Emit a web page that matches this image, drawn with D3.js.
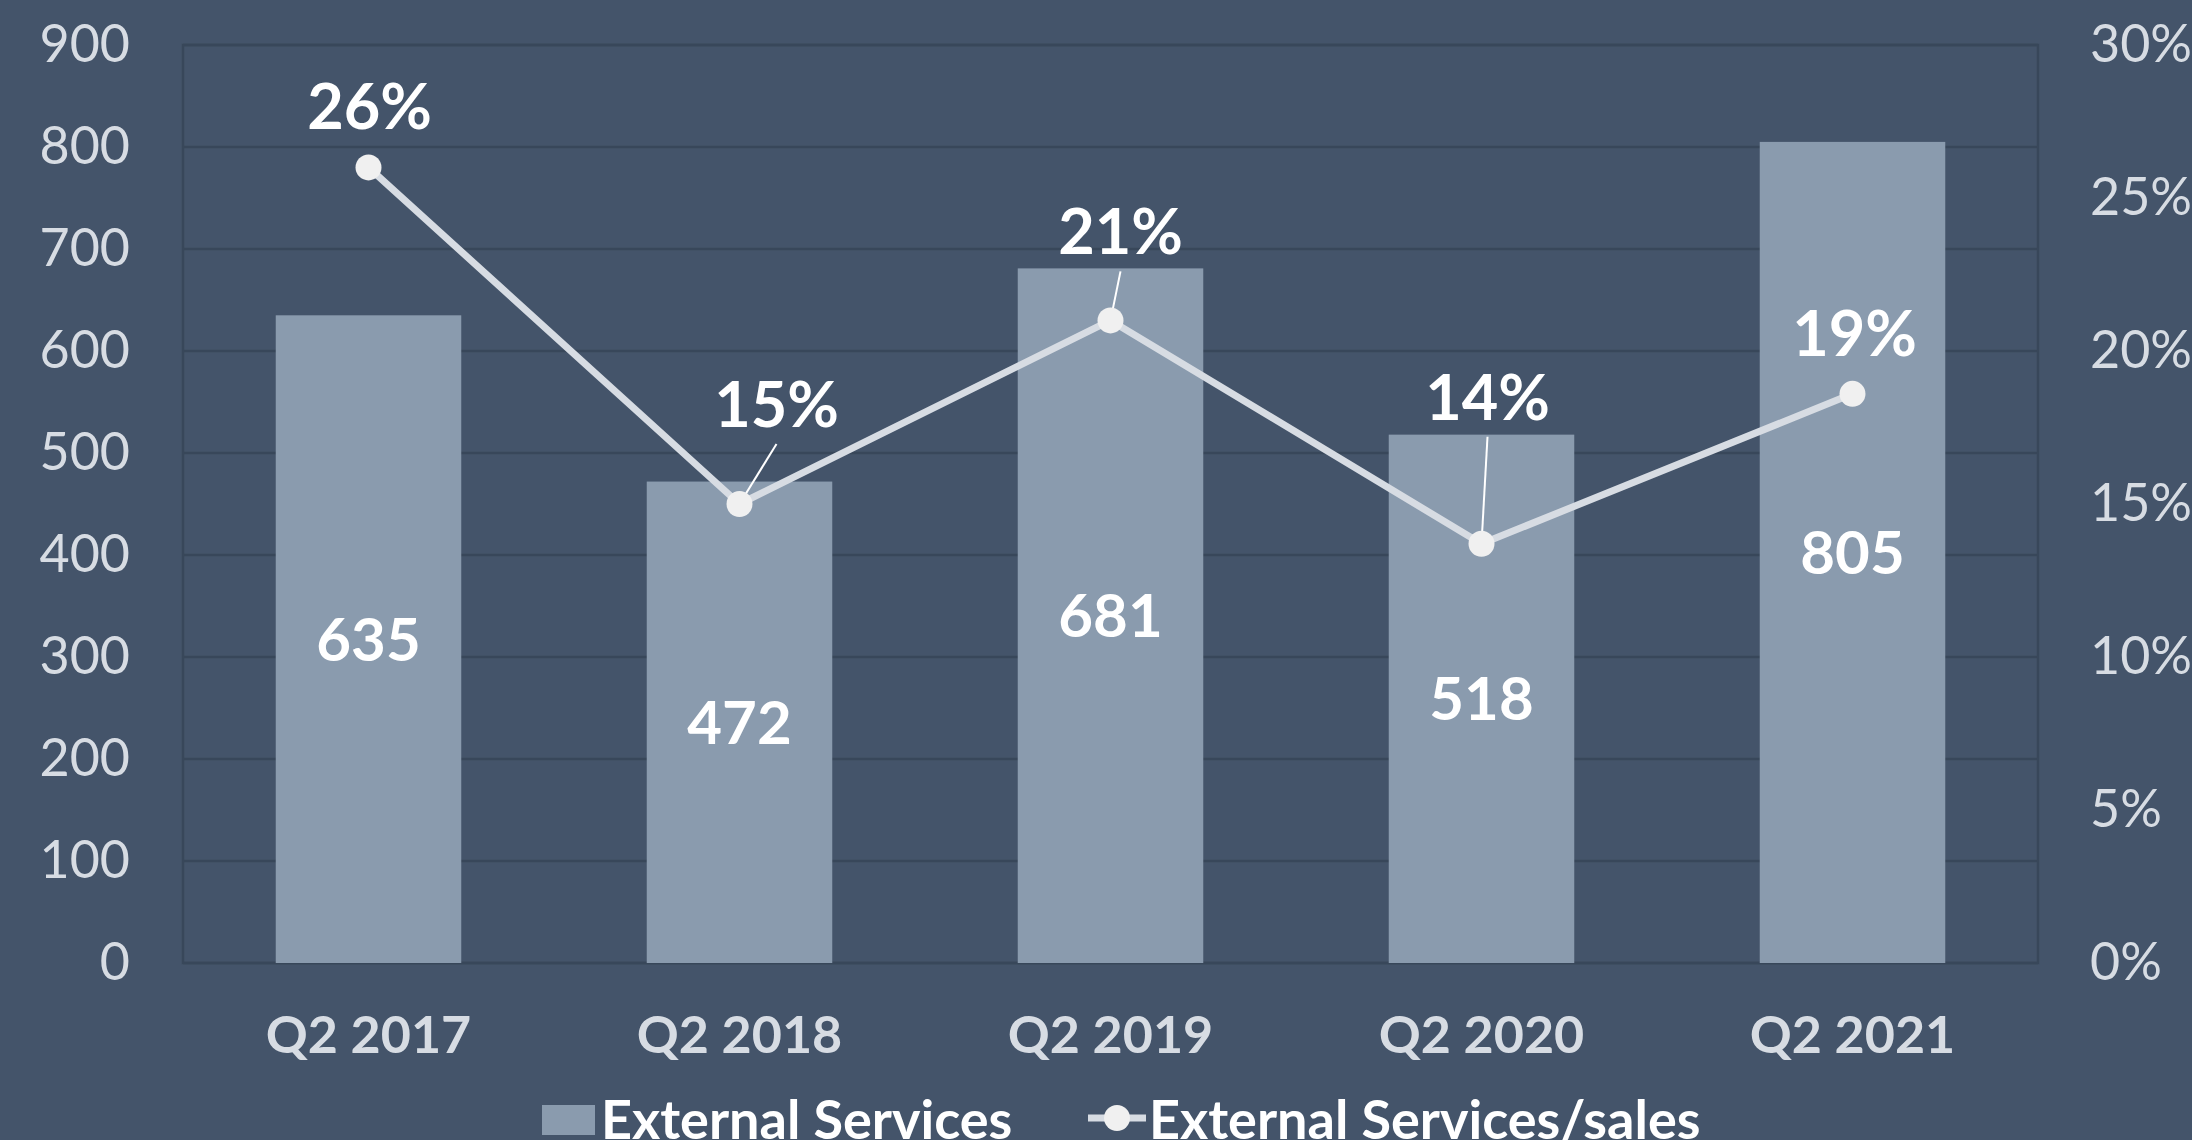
<!DOCTYPE html>
<html>
<head>
<meta charset="utf-8">
<script src="https://cdn.jsdelivr.net/npm/d3@7"></script>
<style>
  html, body { margin: 0; padding: 0; background: #44546a; overflow: hidden; }
  svg { display: block; font-family: Lato, "Open Sans", sans-serif; }
</style>
</head>
<body>
<svg id="chart" width="2192" height="1140"></svg>
<script>
// ---- data ----
const categories = ["Q2 2017", "Q2 2018", "Q2 2019", "Q2 2020", "Q2 2021"];
const externalServices = [635, 472, 681, 518, 805];
const servicesToSales = [0.26, 0.15, 0.21, 0.137, 0.186];
const leftTicks = [0, 100, 200, 300, 400, 500, 600, 700, 800, 900];
const rightTicks = [0, 0.05, 0.10, 0.15, 0.20, 0.25, 0.30];
const seriesNames = ["External Services", "External Services/sales"];

// ---- layout (label nudges, px, as moved in the original) ----
const labelNudge = [[1, -38], [37, -77], [10, -66], [6, -124], [2, -38]];
const leaderFor = [false, true, true, true, false];

const W = 2192, H = 1140;
const plot = { left: 183, right: 2038, top: 45, bottom: 963 };
const bg = "#44546a", barColor = "#8a9bae", gridColor = "#38475a";
const tickColor = "#d7dce3", lineColor = "#d7dce3", markerColor = "#f0f0f0";

const svg = d3.select("#chart");
svg.append("rect").attr("width", W).attr("height", H).attr("fill", bg);

const x = d3.scaleBand().domain(categories).range([plot.left, plot.right])
  .paddingInner(0.5).paddingOuter(0.25);
const yL = d3.scaleLinear().domain([0, 900]).range([plot.bottom, plot.top]);
const yR = d3.scaleLinear().domain([0, 0.30]).range([plot.bottom, plot.top]);

// gridlines
svg.append("g").selectAll("line").data(leftTicks).join("line")
  .attr("x1", plot.left).attr("x2", plot.right)
  .attr("y1", d => yL(d)).attr("y2", d => yL(d))
  .attr("stroke", gridColor).attr("stroke-width", 2.5);
// plot border
svg.append("rect").attr("x", plot.left).attr("y", plot.top)
  .attr("width", plot.right - plot.left).attr("height", plot.bottom - plot.top)
  .attr("fill", "none").attr("stroke", gridColor).attr("stroke-width", 2.5);

// bars
svg.append("g").selectAll("rect").data(externalServices).join("rect")
  .attr("x", (d, i) => x(categories[i]))
  .attr("width", x.bandwidth())
  .attr("y", d => yL(d))
  .attr("height", d => yL(0) - yL(d))
  .attr("fill", barColor);

// bar value labels
svg.append("g").selectAll("text").data(externalServices).join("text")
  .attr("x", (d, i) => x(categories[i]) + x.bandwidth() / 2)
  .attr("y", d => (yL(d) + yL(0)) / 2)
  .attr("text-anchor", "middle").attr("dy", "0.36em")
  .attr("fill", "#ffffff").attr("font-size", 60).attr("font-weight", 700)
  .text(d => d);

// axes
const axL = svg.append("g").attr("transform", `translate(${plot.left},0)`)
  .call(d3.axisLeft(yL).tickValues(leftTicks).tickSize(0).tickPadding(53).tickFormat(d3.format("d")));
const axR = svg.append("g").attr("transform", `translate(${plot.right},0)`)
  .call(d3.axisRight(yR).tickValues(rightTicks).tickSize(0).tickPadding(52).tickFormat(d3.format(".0%")));
const axB = svg.append("g").attr("transform", `translate(0,${plot.bottom})`)
  .call(d3.axisBottom(x).tickSize(0).tickPadding(53));
[axL, axR, axB].forEach(a => {
  a.select(".domain").remove();
  a.selectAll("text").attr("fill", tickColor).attr("font-size", 52)
    .attr("font-family", "Lato, sans-serif");
});
axB.selectAll("text").attr("font-weight", 700);

// line series
const cxOf = i => x(categories[i]) + x.bandwidth() / 2;
const line = d3.line().x((d, i) => cxOf(i)).y(d => yR(d));
svg.append("path").datum(servicesToSales).attr("d", line)
  .attr("fill", "none").attr("stroke", lineColor).attr("stroke-width", 7)
  .attr("stroke-linejoin", "round");

// leader lines
const idx = d3.range(servicesToSales.length).filter(i => leaderFor[i]);
svg.append("g").selectAll("line").data(idx).join("line")
  .attr("x1", i => cxOf(i))
  .attr("y1", i => yR(servicesToSales[i]))
  .attr("x2", i => cxOf(i) + labelNudge[i][0])
  .attr("y2", i => yR(servicesToSales[i]) + labelNudge[i][1] + 17)
  .attr("stroke", "#ffffff").attr("stroke-width", 2);

// markers
svg.append("g").selectAll("circle").data(servicesToSales).join("circle")
  .attr("cx", (d, i) => cxOf(i)).attr("cy", d => yR(d)).attr("r", 13)
  .attr("fill", markerColor);

// pct labels
svg.append("g").selectAll("text").data(servicesToSales).join("text")
  .attr("x", (d, i) => cxOf(i) + labelNudge[i][0])
  .attr("y", (d, i) => yR(d) + labelNudge[i][1])
  .attr("text-anchor", "middle").attr("fill", "#ffffff")
  .attr("font-size", 63).attr("font-weight", 700)
  .text(d => d3.format(".0%")(d));

// legend
const leg = svg.append("g");
leg.append("rect").attr("x", 542).attr("y", 1105).attr("width", 53).attr("height", 30).attr("fill", barColor);
leg.append("text").attr("x", 601).attr("y", 1139).attr("fill", "#ffffff")
  .attr("font-size", 54).attr("font-weight", 700).text(seriesNames[0]);
leg.append("line").attr("x1", 1088).attr("x2", 1146).attr("y1", 1118).attr("y2", 1118)
  .attr("stroke", lineColor).attr("stroke-width", 7);
leg.append("circle").attr("cx", 1117).attr("cy", 1118).attr("r", 13).attr("fill", markerColor);
leg.append("text").attr("x", 1149).attr("y", 1139).attr("fill", "#ffffff")
  .attr("font-size", 54).attr("font-weight", 700).text(seriesNames[1]);
</script>
</body>
</html>
